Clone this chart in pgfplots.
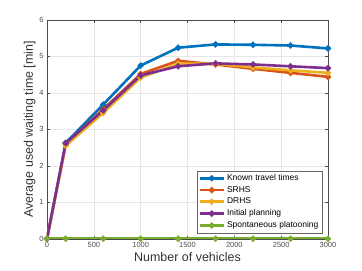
\documentclass[border=0pt]{standalone}
\usepackage{pgfplots}
\pgfplotsset{compat=1.18}
\usepackage{fontspec}
\setmainfont{Liberation Sans}
\definecolor{c1}{rgb}{0,0.447,0.741}
\definecolor{c2}{rgb}{0.85,0.325,0.098}
\definecolor{c3}{rgb}{0.929,0.694,0.125}
\definecolor{c4}{rgb}{0.494,0.184,0.556}
\definecolor{c5}{rgb}{0.466,0.674,0.188}
\begin{document}
\begin{tikzpicture}
\path[use as bounding box] (-47bp,-32.3bp) rectangle (315bp,238.7bp);
\begin{axis}[
  at={(0,0)}, anchor=south west,
  scale only axis, width=281bp, height=218.7bp,
  xmin=0, xmax=3000, ymin=0, ymax=6,
  xtick={0,500,1000,1500,2000,2500,3000},
  ytick={0,1,2,3,4,5,6},
  grid=major, grid style={gray!20, line width=0.4pt},
  tick align=inside, tick style={black!70, line width=0.4pt},
  axis line style={black!70, line width=0.4pt},
  major tick length=3bp,
  scaled x ticks=false,
  /pgf/number format/assume math mode=true,
  /pgf/number format/1000 sep={},
  tick label style={font=\fontsize{7.5}{9}\selectfont, text=black!70},
  xlabel={Number of vehicles}, ylabel={Average used waiting time [min]},
  label style={font=\fontsize{12.5}{14}\selectfont, text=black!80},
  xlabel style={yshift=2bp},
  ylabel style={yshift=-3bp},
  every axis plot/.append style={line width=2.6bp, mark=*, mark size=1.6bp},
  legend style={at={(0.979,0.026)}, anchor=south east, font=\fontsize{8.5}{10}\selectfont,
    draw=black!60, line width=0.4pt, inner sep=1.5bp, row sep=0.3bp, fill=white},
  legend cell align=left,
  legend image code/.code={\draw[#1, mark repeat=2, mark phase=2] plot coordinates {(0bp,0bp) (12bp,0bp) (24bp,0bp)};},
]
\addplot[c1, mark options={fill=c1}] coordinates {(0,0) (200,2.63) (600,3.68) (1000,4.75) (1400,5.24) (1800,5.33) (2200,5.32) (2600,5.30) (3000,5.22)};
\addplot[c2, mark options={fill=c2}] coordinates {(0,0) (200,2.60) (600,3.55) (1000,4.52) (1400,4.88) (1800,4.78) (2200,4.66) (2600,4.55) (3000,4.44)};
\addplot[c3, mark options={fill=c3}] coordinates {(0,0) (200,2.55) (600,3.45) (1000,4.42) (1400,4.80) (1800,4.80) (2200,4.70) (2600,4.62) (3000,4.55)};
\addplot[c4, mark options={fill=c4}] coordinates {(0,0) (200,2.62) (600,3.52) (1000,4.48) (1400,4.73) (1800,4.81) (2200,4.78) (2600,4.73) (3000,4.68)};
\addplot[c5, mark options={fill=c5}] coordinates {(0,0) (200,0) (600,0) (1000,0) (1400,0) (1800,0) (2200,0) (2600,0) (3000,0)};
\legend{Known travel times, SRHS, DRHS, Initial planning, Spontaneous platooning}
\end{axis}
\end{tikzpicture}
\end{document}
